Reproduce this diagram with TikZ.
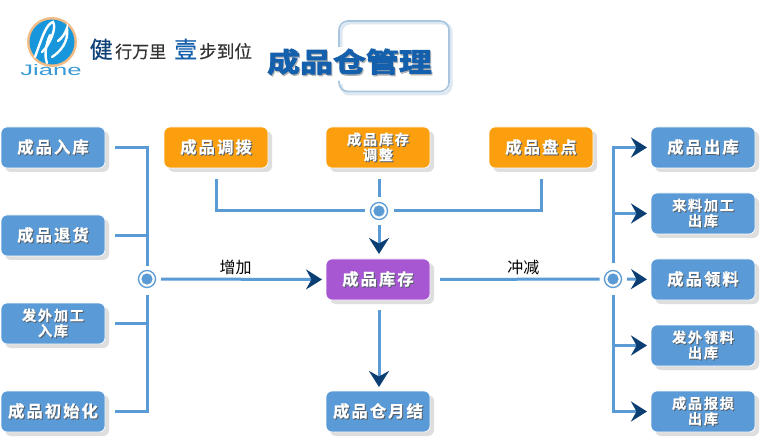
\documentclass[tikz,border=0pt]{standalone}
\usepackage{fontspec}
\usetikzlibrary{arrows.meta,calc}
\setmainfont{Liberation Sans}
\newfontfamily\cjkbold[LetterSpace=12,FakeBold=0.7]{Noto Sans CJK SC Bold}
\newfontfamily\cjkreg{Noto Sans CJK SC}
\newfontfamily\cjktag[FakeBold=0.5]{Noto Sans CJK SC}
\newfontfamily\cjktitle[FakeStretch=1.22,FakeBold=3.2]{Noto Sans CJK SC Bold}
\definecolor{busblue}{HTML}{5B9BD5}
\definecolor{boxblue}{HTML}{5A9AD6}
\definecolor{boxorange}{HTML}{FB9F0E}
\definecolor{boxpurple}{HTML}{A857D2}
\definecolor{tipnavy}{HTML}{0B3F73}
\definecolor{softgrey}{HTML}{DEDEDE}
\definecolor{textshade}{HTML}{55606A}
\definecolor{titleblue}{HTML}{1560AC}
\definecolor{framecol}{HTML}{A9C6DE}
\definecolor{logoblue}{HTML}{1896DC}
\definecolor{logoring}{HTML}{F4BC85}
\definecolor{brandblue}{HTML}{3A9BD8}
\newcommand{\shadetext}[1]{\leavevmode\rlap{\kern1pt\raisebox{-1pt}{\textcolor{textshade}{#1}}}\textcolor{white}{#1}}
\newcommand{\onel}[1]{\fontsize{16.4}{18}\cjkbold\raisebox{-.6pt}{\shadetext{#1}}}
\newcommand{\twol}[2]{\fontsize{14.2}{17}\cjkbold\shadetext{#1}\\\fontsize{14.2}{17}\cjkbold\shadetext{#2}}
\tikzset{
  x=1pt,y=-1pt,
  flow/.style={draw=white,line width=.7pt,rounded corners=6pt,minimum width=104pt,minimum height=41pt,inner sep=0pt,outer sep=0pt,align=center,anchor=north west,
     preaction={draw=none,fill=softgrey,transform canvas={shift={(4pt,-4pt)}}}},
  blueb/.style={flow,fill=boxblue},
  orangeb/.style={flow,fill=boxorange},
  purpleb/.style={flow,fill=boxpurple},
  bus/.style={draw=busblue,line width=3pt},
  arrowbus/.style={bus,-{Stealth[length=16pt,width=20pt,inset=5.5pt,color=tipnavy]}},
  junction/.style={circle,draw=busblue,line width=1.3pt,fill=white,minimum size=17pt,inner sep=0pt,outer sep=0pt,
     path picture={\fill[busblue] (path picture bounding box.center) circle (5.6pt);}},
  flowlabel/.style={font=\fontsize{16}{18}\cjkreg,inner sep=0pt,text=black},
  tagtext/.style={inner sep=0pt,anchor=base west},
}
\begin{document}
\begin{tikzpicture}
\useasboundingbox (0,0) rectangle (760,438);
\fill[white] (0,0) rectangle (760,438);
% logo
\fill[logoring] (52,42) circle (25);
\fill[logoblue] (52,42) circle (22.5);
\draw[white,line width=2.4pt,line cap=round] (35,57) .. controls (42,38) and (46,24) .. (53,22) .. controls (57,27) and (50,45) .. (42,52);
\draw[white,line width=2.4pt,line cap=round] (50,35) .. controls (46,44) and (44,55) .. (47,63);
\draw[white,line width=2.4pt,line cap=round] (52,57) .. controls (60,52) and (69,42) .. (67,28) .. controls (65,34) and (62,38) .. (58,41);
\node[inner sep=0pt,text=brandblue,font=\fontsize{16}{18}\selectfont] (brand) at (51,70) {\scalebox{1.6}[.95]{Jiane}};
% tagline
\node[tagtext,text=titleblue!70!black,font=\fontsize{23}{24}\cjktag] (tagone) at (89.5,58) {健};
\node[tagtext,text=black!80,font=\fontsize{17}{18}\cjktag] (tagtwo) at (115,58) {行万里};
\node[tagtext,text=titleblue,font=\fontsize{23}{24}\cjktag] (tagthree) at (174,58) {壹};
\node[tagtext,text=black!80,font=\fontsize{17.6}{18}\cjktag] (tagfour) at (199,58) {步到位};
% title frame
\draw[line width=3pt,draw=framecol!40!white,rounded corners=9pt] (341,47) -- (341,23) -- (451,23) -- (451,94) -- (341,94) -- (341,84);
\draw[line width=1.6pt,draw=framecol,rounded corners=9pt] (339,47) -- (339,21) -- (449,21) -- (449,91.5) -- (339,91.5) -- (339,81);
% title
\node[inner sep=0pt,text=black!30,font=\fontsize{27}{30}\cjktitle] (title) at (349.5,62.5) {\rlap{\kern1pt\raisebox{-1.5pt}{成品仓管理}}\textcolor{titleblue}{成品仓管理}};
% boxes
\node[blueb] (l1) at (1,127) {\onel{成品入库}};
\node[blueb] (l2) at (1,215) {\onel{成品退货}};
\node[blueb] (l3) at (1,303) {\twol{发外加工}{入库}};
\node[blueb] (l4) at (1,391) {\onel{成品初始化}};
\node[orangeb] (t1) at (164,127) {\onel{成品调拨}};
\node[orangeb] (t2) at (326,127) {\twol{成品库存}{调整}};
\node[orangeb] (t3) at (489,127) {\onel{成品盘点}};
\node[purpleb] (c) at (326,259) {\onel{成品库存}};
\node[blueb] (b) at (326,391) {\onel{成品仓月结}};
\node[blueb] (r1) at (651,127) {\onel{成品出库}};
\node[blueb] (r2) at (651,193) {\twol{来料加工}{出库}};
\node[blueb] (r3) at (651,259) {\onel{成品领料}};
\node[blueb] (r4) at (651,325) {\twol{发外领料}{出库}};
\node[blueb] (r5) at (651,391) {\twol{成品报损}{出库}};
% junctions
\node[junction] (jl) at (147,279) {};
\node[junction] (jt) at (379,211) {};
\node[junction] (jr) at (613,279) {};
% left bus
\draw[bus,shorten <=10pt,shorten >=8pt] (l1.east) -| (jl.north);
\draw[bus,shorten <=10pt] (l2.east) -| ($(jl.north)+(0,-4)$);
\draw[bus,shorten <=10pt,shorten >=7pt] (l4.east) -| (jl.south);
\draw[bus,shorten <=10pt] (l3.east) -| ($(jl.south)+(0,20)$);
\draw[arrowbus,shorten <=5.5pt,shorten >=4pt] (jl.east) -- (c.west) node[pos=.47,above=2.5pt,flowlabel] (lplus) {增加};
% top bus
\draw[bus,shorten <=11pt,shorten >=6pt] (t1.south) |- (jt.west);
\draw[bus,shorten <=11pt,shorten >=6pt] (t3.south) |- (jt.east);
\draw[bus,shorten <=11pt,shorten >=5pt] (jt |- t2.south) -- (jt.north);
\draw[arrowbus,shorten <=5.5pt,shorten >=5pt] (jt.south) -- (jt |- c.north);
% bottom
\draw[arrowbus,shorten <=10pt,shorten >=4pt] (jt |- c.south) -- (jt |- b.north);
% right bus
\draw[bus,shorten <=10pt,shorten >=5pt] (c.east) -- (jr.west) node[pos=.535,above=2.5pt,flowlabel] (lminus) {冲减};
\draw[arrowbus,shorten <=5.5pt,shorten >=4pt] (jr.east) -- (r3.west);
\draw[arrowbus,shorten <=7pt,shorten >=4pt] (jr.north) |- (r1.west);
\draw[arrowbus,shorten <=30pt,shorten >=4pt] (jr.north) |- (r2.west);
\draw[arrowbus,shorten <=7pt,shorten >=4pt] (jr.south) |- (r5.west);
\draw[arrowbus,shorten <=30pt,shorten >=4pt] (jr.south) |- (r4.west);
\end{tikzpicture}
\end{document}
